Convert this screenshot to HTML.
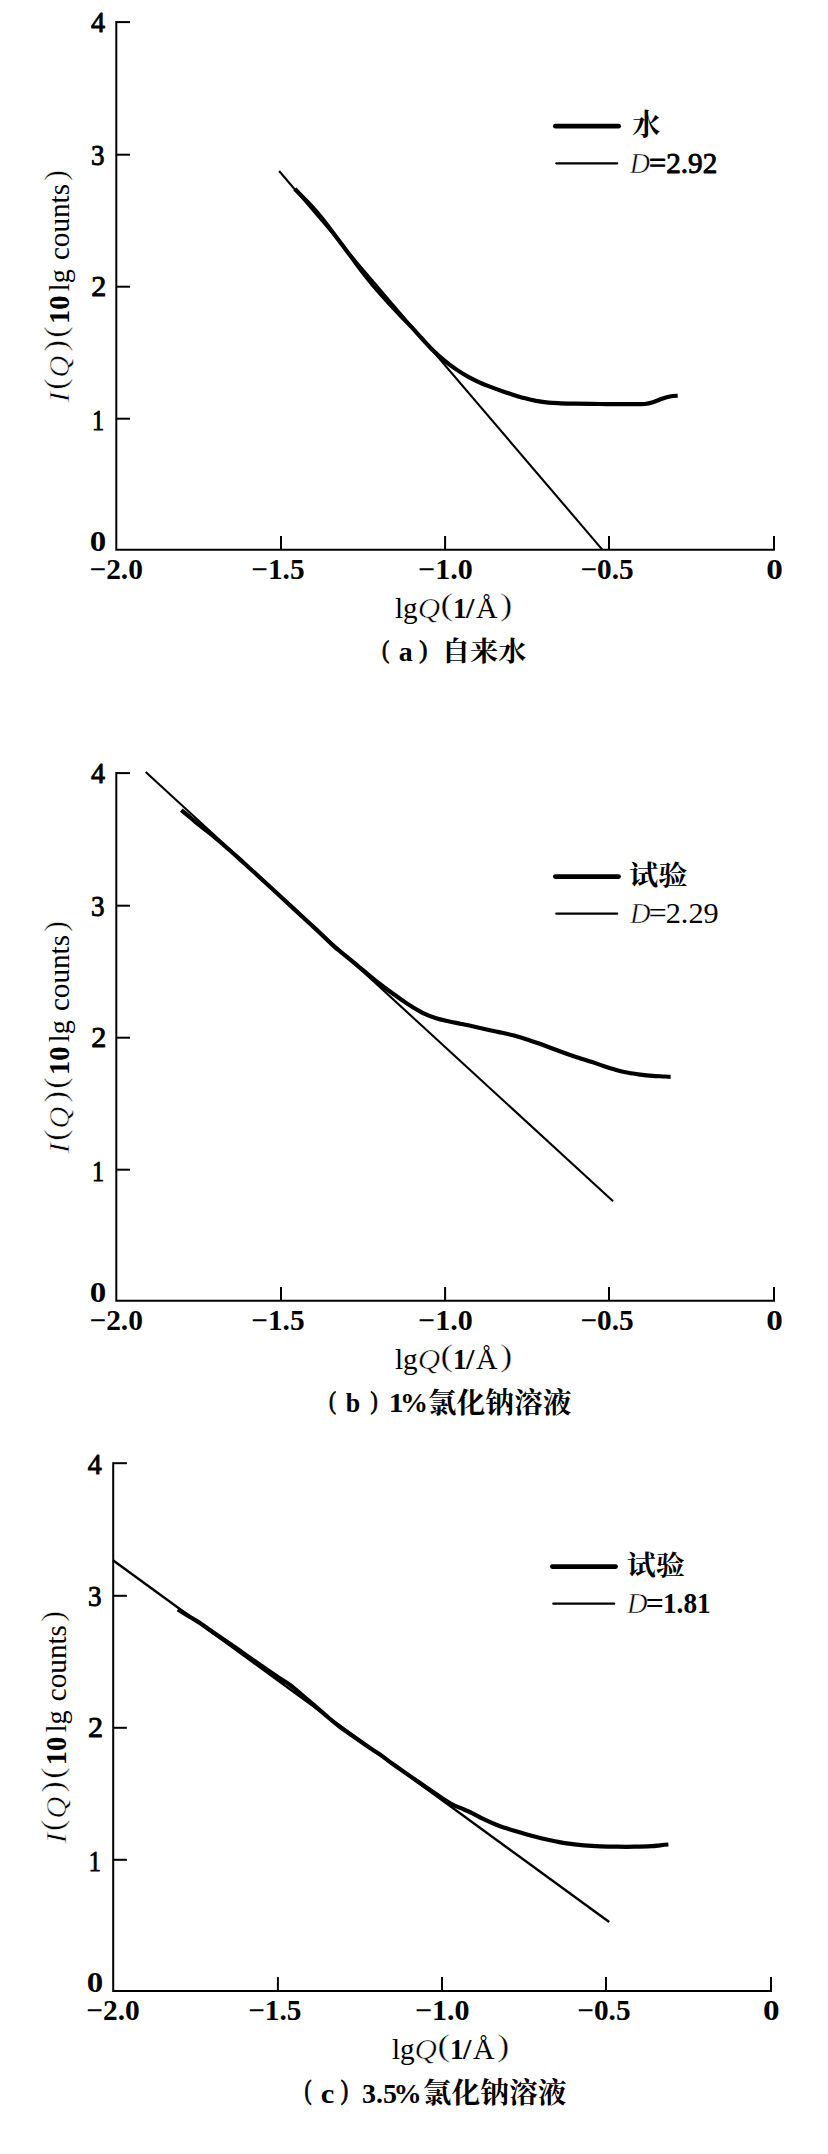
<!DOCTYPE html>
<html lang="zh">
<head>
<meta charset="utf-8">
<title>SAXS fractal dimension plots</title>
<style>
html,body{margin:0;padding:0;background:#fff;}
body{width:828px;height:2154px;overflow:hidden;}
svg{display:block;}
text{font-family:"Liberation Serif","Noto Serif CJK SC",serif;fill:#000;}
.b{font-weight:400;stroke:#000;stroke-width:.9px;stroke-linejoin:round;}
.bb{font-weight:700;}
.r{font-weight:400;}
.p{font-weight:400;stroke:#fff;stroke-width:.5px;}
.i{font-weight:400;font-style:italic;stroke:#fff;stroke-width:.55px;}
.c{font-family:"Liberation Serif","Noto Serif CJK SC",serif;font-weight:700;}
.ax{stroke:#000;stroke-width:2;fill:none;stroke-linecap:butt;stroke-linejoin:miter;}
.thin{stroke:#000;fill:none;}
.thick{stroke:#000;stroke-width:4.2;fill:none;stroke-linejoin:round;stroke-linecap:butt;}
.lg1{stroke:#000;stroke-width:4.7;fill:none;stroke-linecap:round;}
.lg2{stroke:#000;stroke-width:2.3;fill:none;stroke-linecap:round;}
</style>
</head>
<body>
<svg width="828" height="2154" viewBox="0 0 828 2154">
<rect width="828" height="2154" fill="#fff"/>

<g id="chart-a">
<path class="ax" d="M116.3,21.1 V549.8 H775.0"/>
<path class="ax" d="M116.3,418.7 h13.7"/>
<path class="ax" d="M116.3,286.7 h13.7"/>
<path class="ax" d="M116.3,154.7 h13.7"/>
<path class="ax" d="M116.3,22.1 h13.7"/>
<path class="ax" d="M281.0,549.8 v-13.8"/>
<path class="ax" d="M445.1,549.8 v-13.8"/>
<path class="ax" d="M609.0,549.8 v-13.8"/>
<path class="ax" d="M774.0,549.8 v-13.8"/>
<text class="bb" transform="translate(89.76,550.80) scale(1.136,1.000)" font-size="29">0</text>
<text class="b" transform="translate(91.93,429.90) scale(0.836,1.000)" font-size="29">1</text>
<text class="b" transform="translate(91.22,296.00) scale(1.040,1.000)" font-size="29">2</text>
<text class="b" transform="translate(91.07,164.70) scale(0.933,1.000)" font-size="29">3</text>
<text class="b" transform="translate(90.90,32.40) scale(0.972,1.000)" font-size="29">4</text>
<text class="bb" transform="translate(89.38,578.80) scale(1.015,1.000)" font-size="29">−2.0</text>
<text class="bb" transform="translate(251.29,578.80) scale(1.009,1.000)" font-size="29">−1.5</text>
<text class="bb" transform="translate(418.04,578.80) scale(1.037,1.000)" font-size="29">−1.0</text>
<text class="bb" transform="translate(580.39,578.80) scale(1.009,1.000)" font-size="29">−0.5</text>
<text class="bb" transform="translate(766.16,578.80) scale(1.144,1.000)" font-size="29">0</text>
<path class="thin" stroke-width="2.1" d="M279.1,171.0 L602.3,549.6"/>
<path class="thick" d="M294.8,189.0 C297.3,191.6 305.3,199.5 310.0,204.5 C314.7,209.5 317.6,212.7 322.8,219.2 C328.0,225.7 336.3,237.1 341.2,243.6 C346.1,250.1 348.3,253.0 352.1,258.1 C355.9,263.2 360.2,269.1 364.2,274.2 C368.2,279.3 372.2,284.3 376.2,289.0 C380.2,293.7 384.3,298.2 388.3,302.6 C392.3,307.0 396.4,311.2 400.4,315.5 C404.4,319.8 409.0,324.4 412.5,328.2 C416.0,331.9 418.2,334.5 421.5,338.0 C424.8,341.5 428.3,345.7 432.1,349.4 C435.9,353.1 440.2,357.0 444.2,360.3 C448.2,363.6 452.2,366.6 456.2,369.4 C460.2,372.1 464.3,374.6 468.3,376.8 C472.3,379.0 476.4,381.0 480.4,382.8 C484.4,384.6 488.5,386.1 492.5,387.6 C496.5,389.1 501.2,390.8 504.5,391.9 C507.8,393.0 508.8,393.5 512.1,394.5 C515.4,395.5 520.2,397.0 524.2,398.1 C528.2,399.2 532.2,400.1 536.2,400.9 C540.2,401.6 544.3,402.2 548.3,402.6 C552.3,403.0 555.9,403.1 560.4,403.3 C564.9,403.5 568.4,403.6 575.0,403.7 C581.6,403.8 591.7,403.9 600.0,404.0 C608.3,404.1 617.1,404.1 624.6,404.1 C632.1,404.1 640.0,404.4 644.8,404.0 C649.6,403.6 650.7,402.9 653.6,402.0 C656.5,401.1 659.3,399.7 662.0,398.8 C664.7,397.9 667.4,397.0 670.0,396.5 C672.6,396.0 676.4,395.8 677.7,395.7"/>
<path class="lg1" d="M555.3,126.2 H618.6"/>
<path class="lg2" d="M556.3,163.3 H617.2"/>
<text class="c" transform="translate(632.26,135.41) scale(0.989,1.036)" font-size="28.5">水</text>
<text class="i" transform="translate(629.70,173.10) scale(0.933,1.000)" font-size="30">D</text>
<text class="b" transform="translate(648.95,173.10) scale(1.048,1.000)" font-size="29">=</text>
<text class="b" transform="translate(666.25,173.10) scale(1.005,1.000)" font-size="29">2.92</text>
<text class="r" transform="translate(395.01,618.00) scale(0.971,1.000)" font-size="30">lg</text>
<text class="i" transform="translate(417.63,618.00) scale(1.035,1.000)" font-size="30">Q</text>
<text class="p" transform="translate(440.26,615.38) scale(1.283,1.004)" font-size="31">(</text>
<text class="bb" transform="translate(453.09,618.00) scale(0.940,1.000)" font-size="29">1</text>
<text class="bb" transform="translate(466.06,618.00) scale(1.035,1.000)" font-size="29">/</text>
<text class="r" transform="translate(476.05,618.00) scale(0.993,1.000)" font-size="30">Å</text>
<text class="p" transform="translate(499.77,615.38) scale(1.227,1.004)" font-size="31">)</text>
<g transform="translate(69.0,402.4) rotate(-90)">
<text class="i" transform="translate(-0.29,0.00) scale(1.143,1.000)" font-size="30">I</text>
<text class="p" transform="translate(12.57,-3.10) scale(1.103,1.000)" font-size="31">(</text>
<text class="i" transform="translate(24.75,0.00) scale(1.024,1.000)" font-size="30">Q</text>
<text class="p" transform="translate(50.82,-3.10) scale(1.107,1.000)" font-size="31">)</text>
<text class="p" transform="translate(64.77,-3.10) scale(1.103,1.000)" font-size="31">(</text>
<text class="bb" transform="translate(78.28,0.00) scale(0.986,1.000)" font-size="29">10</text>
<text class="r" transform="translate(111.23,0.00) scale(0.944,1.000)" font-size="30">lg</text>
<text class="r" transform="translate(142.28,0.00) scale(0.972,1.000)" font-size="30">counts</text>
<text class="p" transform="translate(221.47,-3.10) scale(1.067,1.000)" font-size="31">)</text>
</g>
<text class="b" transform="translate(382.12,657.83) scale(0.775,0.918)" font-size="28">(</text>
<text class="bb" transform="translate(398.67,661.30) scale(1.033,1.000)" font-size="27">a</text>
<text class="b" transform="translate(419.36,657.83) scale(0.875,0.918)" font-size="28">)</text>
<text class="c" transform="translate(441.70,661.00) scale(0.991,0.961)" font-size="28.5">自来水</text>
</g>
<g id="chart-b">
<path class="ax" d="M116.3,772.1 V1300.8 H775.0"/>
<path class="ax" d="M116.3,1169.7 h13.7"/>
<path class="ax" d="M116.3,1037.7 h13.7"/>
<path class="ax" d="M116.3,905.7 h13.7"/>
<path class="ax" d="M116.3,773.1 h13.7"/>
<path class="ax" d="M281.0,1300.8 v-13.8"/>
<path class="ax" d="M445.1,1300.8 v-13.8"/>
<path class="ax" d="M609.0,1300.8 v-13.8"/>
<path class="ax" d="M774.0,1300.8 v-13.8"/>
<text class="bb" transform="translate(89.76,1301.80) scale(1.136,1.000)" font-size="29">0</text>
<text class="b" transform="translate(91.93,1180.90) scale(0.836,1.000)" font-size="29">1</text>
<text class="b" transform="translate(91.22,1047.00) scale(1.040,1.000)" font-size="29">2</text>
<text class="b" transform="translate(91.07,915.70) scale(0.933,1.000)" font-size="29">3</text>
<text class="b" transform="translate(90.90,783.40) scale(0.972,1.000)" font-size="29">4</text>
<text class="bb" transform="translate(89.38,1329.80) scale(1.015,1.000)" font-size="29">−2.0</text>
<text class="bb" transform="translate(251.29,1329.80) scale(1.009,1.000)" font-size="29">−1.5</text>
<text class="bb" transform="translate(418.04,1329.80) scale(1.037,1.000)" font-size="29">−1.0</text>
<text class="bb" transform="translate(580.39,1329.80) scale(1.009,1.000)" font-size="29">−0.5</text>
<text class="bb" transform="translate(766.16,1329.80) scale(1.144,1.000)" font-size="29">0</text>
<path class="thin" stroke-width="2.1" d="M145.7,772.1 L613.1,1201.3"/>
<path class="thick" d="M181.3,810.1 C183.6,812.0 190.2,817.6 195.0,821.5 C199.8,825.4 204.2,828.7 210.0,833.5 C215.8,838.3 224.3,845.5 230.0,850.5 C235.7,855.5 237.8,857.5 244.2,863.3 C250.6,869.1 260.2,877.8 268.3,885.2 C276.4,892.6 285.6,901.2 292.5,907.6 C299.4,914.0 305.4,919.6 310.0,923.8 C314.6,928.0 316.2,929.4 320.0,933.0 C323.8,936.6 328.7,941.5 333.0,945.4 C337.3,949.3 341.8,952.7 346.0,956.2 C350.2,959.7 354.3,963.0 358.3,966.3 C362.3,969.6 366.0,972.8 370.0,976.1 C374.0,979.4 378.4,982.9 382.5,986.0 C386.6,989.1 391.1,992.3 394.5,994.8 C397.9,997.3 400.1,998.8 403.0,1000.8 C405.9,1002.8 408.6,1004.7 412.1,1006.8 C415.6,1008.9 420.2,1011.7 424.2,1013.6 C428.2,1015.5 432.2,1017.0 436.2,1018.3 C440.2,1019.6 444.3,1020.4 448.3,1021.3 C452.3,1022.2 456.4,1022.9 460.4,1023.7 C464.4,1024.5 468.5,1025.3 472.5,1026.2 C476.5,1027.1 480.6,1028.1 484.5,1029.0 C488.4,1029.9 493.1,1030.9 496.0,1031.5 C498.9,1032.1 499.1,1032.1 502.1,1032.8 C505.1,1033.5 510.2,1034.5 514.2,1035.6 C518.2,1036.7 522.2,1038.0 526.2,1039.3 C530.2,1040.6 534.3,1041.8 538.3,1043.2 C542.3,1044.6 546.4,1046.2 550.4,1047.7 C554.4,1049.2 558.5,1050.8 562.5,1052.3 C566.5,1053.8 571.6,1055.6 574.5,1056.6 C577.4,1057.6 577.1,1057.3 580.0,1058.2 C582.9,1059.1 588.1,1060.7 592.1,1062.0 C596.1,1063.3 600.2,1065.0 604.2,1066.3 C608.2,1067.6 612.2,1068.9 616.2,1070.0 C620.2,1071.1 624.3,1072.0 628.3,1072.8 C632.3,1073.6 636.4,1074.1 640.4,1074.6 C644.4,1075.1 648.5,1075.5 652.5,1075.8 C656.5,1076.1 661.5,1076.3 664.5,1076.5 C667.5,1076.7 669.6,1076.8 670.6,1076.8"/>
<path class="lg1" d="M555.3,876.6 H618.6"/>
<path class="lg2" d="M556.3,913.7 H617.2"/>
<text class="c" transform="translate(628.93,885.41) scale(1.027,0.957)" font-size="28.5">试验</text>
<text class="i" transform="translate(630.10,923.10) scale(0.948,1.000)" font-size="30">D</text>
<text class="r" transform="translate(648.76,923.10) scale(1.096,1.000)" font-size="29">=</text>
<text class="r" transform="translate(665.69,923.10) scale(1.045,1.000)" font-size="29">2.29</text>
<text class="r" transform="translate(395.01,1369.00) scale(0.971,1.000)" font-size="30">lg</text>
<text class="i" transform="translate(417.63,1369.00) scale(1.035,1.000)" font-size="30">Q</text>
<text class="p" transform="translate(440.26,1366.38) scale(1.283,1.004)" font-size="31">(</text>
<text class="bb" transform="translate(453.09,1369.00) scale(0.940,1.000)" font-size="29">1</text>
<text class="bb" transform="translate(466.06,1369.00) scale(1.035,1.000)" font-size="29">/</text>
<text class="r" transform="translate(476.05,1369.00) scale(0.993,1.000)" font-size="30">Å</text>
<text class="p" transform="translate(499.77,1366.38) scale(1.227,1.004)" font-size="31">)</text>
<g transform="translate(69.0,1153.4) rotate(-90)">
<text class="i" transform="translate(-0.29,0.00) scale(1.143,1.000)" font-size="30">I</text>
<text class="p" transform="translate(12.57,-3.10) scale(1.103,1.000)" font-size="31">(</text>
<text class="i" transform="translate(24.75,0.00) scale(1.024,1.000)" font-size="30">Q</text>
<text class="p" transform="translate(50.82,-3.10) scale(1.107,1.000)" font-size="31">)</text>
<text class="p" transform="translate(64.77,-3.10) scale(1.103,1.000)" font-size="31">(</text>
<text class="bb" transform="translate(78.28,0.00) scale(0.986,1.000)" font-size="29">10</text>
<text class="r" transform="translate(111.23,0.00) scale(0.944,1.000)" font-size="30">lg</text>
<text class="r" transform="translate(142.28,0.00) scale(0.972,1.000)" font-size="30">counts</text>
<text class="p" transform="translate(221.47,-3.10) scale(1.067,1.000)" font-size="31">)</text>
</g>
<text class="b" transform="translate(328.94,1408.81) scale(0.750,0.922)" font-size="28">(</text>
<text class="bb" transform="translate(345.66,1411.90) scale(0.960,1.000)" font-size="27">b</text>
<text class="b" transform="translate(370.61,1408.81) scale(0.775,0.922)" font-size="28">)</text>
<text class="bb" transform="translate(388.83,1411.90) scale(1.097,1.000)" font-size="27">1</text>
<text class="bb" transform="translate(400.04,1411.90) scale(1.039,1.000)" font-size="27">%</text>
<text class="c" transform="translate(427.69,1413.18) scale(1.009,1.009)" font-size="28.5">氯化钠溶液</text>
</g>
<g id="chart-c">
<path class="ax" d="M113.2,1462.2 V1990.9 H772.0"/>
<path class="ax" d="M113.2,1859.8 h13.7"/>
<path class="ax" d="M113.2,1727.8 h13.7"/>
<path class="ax" d="M113.2,1595.8 h13.7"/>
<path class="ax" d="M113.2,1463.2 h13.7"/>
<path class="ax" d="M277.9,1990.9 v-13.8"/>
<path class="ax" d="M442.0,1990.9 v-13.8"/>
<path class="ax" d="M606.0,1990.9 v-13.8"/>
<path class="ax" d="M771.0,1990.9 v-13.8"/>
<text class="bb" transform="translate(86.66,1991.90) scale(1.136,1.000)" font-size="29">0</text>
<text class="b" transform="translate(88.83,1871.00) scale(0.836,1.000)" font-size="29">1</text>
<text class="b" transform="translate(88.12,1737.10) scale(1.040,1.000)" font-size="29">2</text>
<text class="b" transform="translate(87.97,1605.80) scale(0.933,1.000)" font-size="29">3</text>
<text class="b" transform="translate(87.80,1473.50) scale(0.972,1.000)" font-size="29">4</text>
<text class="bb" transform="translate(86.28,2019.90) scale(1.015,1.000)" font-size="29">−2.0</text>
<text class="bb" transform="translate(248.19,2019.90) scale(1.009,1.000)" font-size="29">−1.5</text>
<text class="bb" transform="translate(414.94,2019.90) scale(1.037,1.000)" font-size="29">−1.0</text>
<text class="bb" transform="translate(577.29,2019.90) scale(1.009,1.000)" font-size="29">−0.5</text>
<text class="bb" transform="translate(763.06,2019.90) scale(1.144,1.000)" font-size="29">0</text>
<path class="thin" stroke-width="2.4" d="M113.3,1560.5 L609.2,1922.0"/>
<path class="thick" d="M177.9,1609.4 C179.9,1610.7 186.3,1614.7 190.0,1617.0 C193.7,1619.3 196.0,1620.3 200.0,1623.0 C204.0,1625.7 207.8,1628.6 214.2,1633.0 C220.6,1637.4 230.2,1644.0 238.3,1649.6 C246.4,1655.2 255.6,1661.7 262.5,1666.5 C269.4,1671.3 275.4,1675.4 280.0,1678.5 C284.6,1681.6 286.0,1682.0 290.0,1685.0 C294.0,1688.0 299.9,1693.2 304.2,1696.8 C308.5,1700.4 312.0,1703.3 316.0,1706.8 C320.0,1710.2 324.3,1714.1 328.3,1717.5 C332.3,1720.9 336.0,1724.0 340.0,1727.0 C344.0,1730.0 347.5,1732.3 352.5,1735.8 C357.5,1739.3 365.4,1744.9 370.0,1748.0 C374.6,1751.1 376.0,1751.7 380.0,1754.5 C384.0,1757.3 387.8,1760.5 394.2,1765.0 C400.6,1769.5 410.2,1776.2 418.3,1781.8 C426.4,1787.4 436.7,1794.6 442.5,1798.4 C448.3,1802.2 449.9,1803.2 453.0,1804.8 C456.1,1806.4 457.8,1806.8 461.0,1808.2 C464.2,1809.6 468.2,1811.2 472.1,1813.1 C476.0,1815.0 480.2,1817.5 484.2,1819.4 C488.2,1821.3 492.2,1823.1 496.2,1824.7 C500.2,1826.3 504.3,1827.6 508.3,1828.9 C512.3,1830.2 516.4,1831.3 520.4,1832.5 C524.4,1833.7 528.5,1834.9 532.5,1836.0 C536.5,1837.1 540.8,1838.1 544.5,1839.0 C548.2,1839.9 551.3,1840.5 555.0,1841.2 C558.7,1841.9 562.1,1842.7 566.9,1843.4 C571.7,1844.1 578.2,1844.8 583.8,1845.3 C589.4,1845.8 595.1,1846.1 600.7,1846.3 C606.3,1846.5 612.0,1846.6 617.6,1846.7 C623.2,1846.8 628.9,1846.8 634.5,1846.7 C640.1,1846.6 647.3,1846.4 651.5,1846.2 C655.7,1846.0 657.1,1845.6 659.9,1845.3 C662.7,1845.0 667.0,1844.6 668.4,1844.5"/>
<path class="lg1" d="M552.3,1566.6 H615.6"/>
<path class="lg2" d="M553.3,1603.7 H614.2"/>
<text class="c" transform="translate(626.64,1574.71) scale(1.020,0.957)" font-size="28.5">试验</text>
<text class="i" transform="translate(627.10,1613.10) scale(0.948,1.000)" font-size="30">D</text>
<text class="bb" transform="translate(645.76,1613.10) scale(1.096,1.000)" font-size="29">=</text>
<text class="bb" transform="translate(662.98,1613.10) scale(0.940,1.000)" font-size="29">1.81</text>
<text class="r" transform="translate(391.91,2059.10) scale(0.971,1.000)" font-size="30">lg</text>
<text class="i" transform="translate(414.53,2059.10) scale(1.035,1.000)" font-size="30">Q</text>
<text class="p" transform="translate(437.16,2056.48) scale(1.283,1.004)" font-size="31">(</text>
<text class="bb" transform="translate(449.99,2059.10) scale(0.940,1.000)" font-size="29">1</text>
<text class="bb" transform="translate(462.96,2059.10) scale(1.035,1.000)" font-size="29">/</text>
<text class="r" transform="translate(472.95,2059.10) scale(0.993,1.000)" font-size="30">Å</text>
<text class="p" transform="translate(496.67,2056.48) scale(1.227,1.004)" font-size="31">)</text>
<g transform="translate(65.9,1843.5) rotate(-90)">
<text class="i" transform="translate(-0.29,0.00) scale(1.143,1.000)" font-size="30">I</text>
<text class="p" transform="translate(12.57,-3.10) scale(1.103,1.000)" font-size="31">(</text>
<text class="i" transform="translate(24.75,0.00) scale(1.024,1.000)" font-size="30">Q</text>
<text class="p" transform="translate(50.82,-3.10) scale(1.107,1.000)" font-size="31">)</text>
<text class="p" transform="translate(64.77,-3.10) scale(1.103,1.000)" font-size="31">(</text>
<text class="bb" transform="translate(78.28,0.00) scale(0.986,1.000)" font-size="29">10</text>
<text class="r" transform="translate(111.23,0.00) scale(0.944,1.000)" font-size="30">lg</text>
<text class="r" transform="translate(142.28,0.00) scale(0.972,1.000)" font-size="30">counts</text>
<text class="p" transform="translate(221.47,-3.10) scale(1.067,1.000)" font-size="31">)</text>
</g>
<text class="b" transform="translate(304.54,2099.48) scale(0.750,0.956)" font-size="28">(</text>
<text class="bb" transform="translate(320.77,2102.50) scale(1.132,1.000)" font-size="27">c</text>
<text class="b" transform="translate(340.80,2099.48) scale(0.800,0.956)" font-size="28">)</text>
<text class="bb" transform="translate(361.96,2102.50) scale(1.036,1.000)" font-size="27">3.5</text>
<text class="bb" transform="translate(393.43,2102.50) scale(1.044,1.000)" font-size="27">%</text>
<text class="c" transform="translate(422.69,2103.18) scale(1.009,1.009)" font-size="28.5">氯化钠溶液</text>
</g>
</svg>
</body>
</html>
